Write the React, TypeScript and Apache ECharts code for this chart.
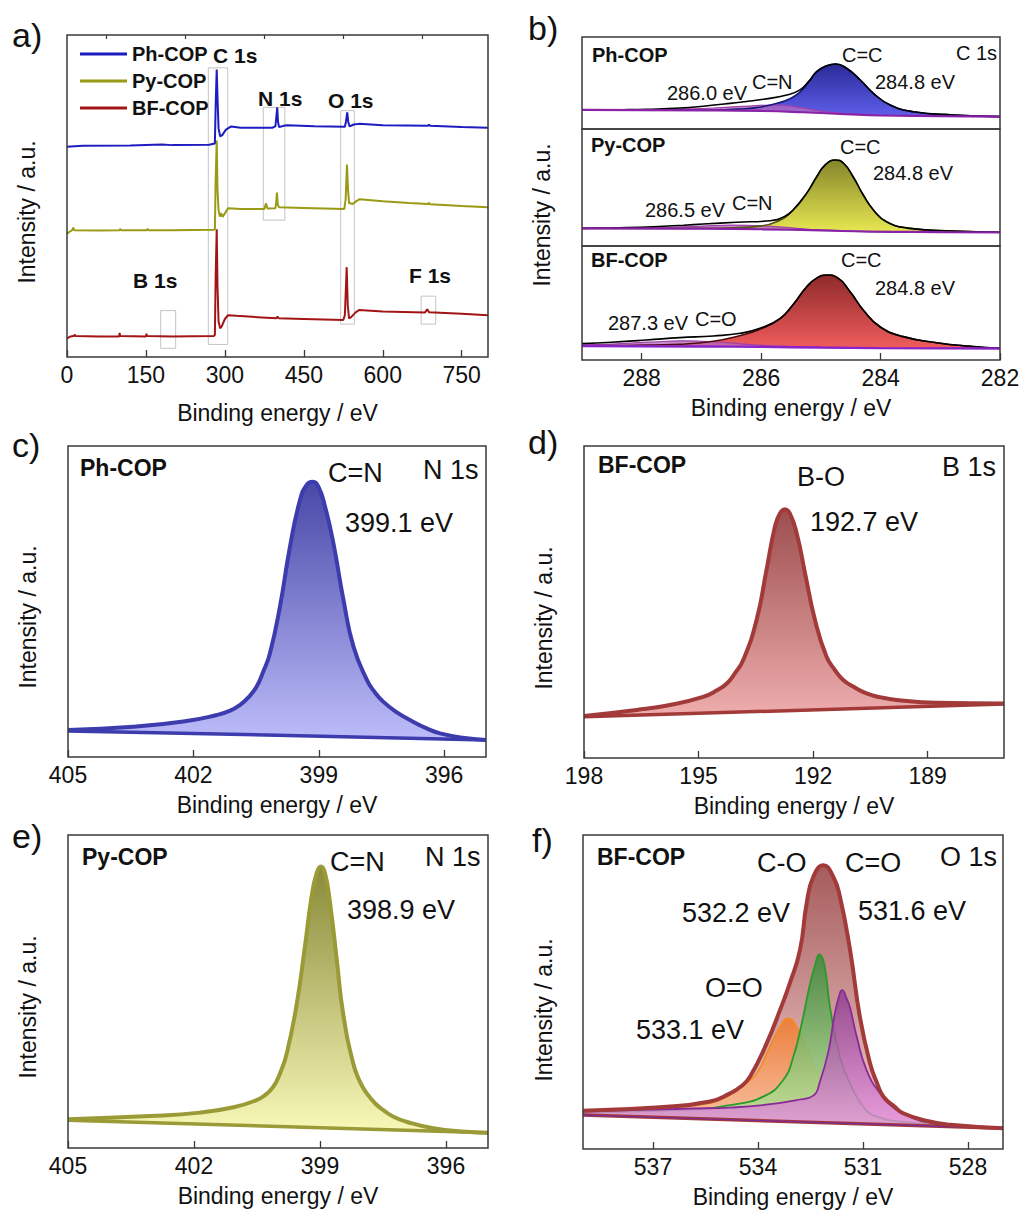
import React, { useEffect, useRef } from "react";
import * as echarts from "echarts";

type P = [number, number];

// ---------------- Panel a: survey spectra ----------------
const surveyTicks = [0, 150, 300, 450, 600, 750];
const surveyMinorTicks = [75, 225, 375, 525, 675];
const phSurvey: P[] = [
  [0, 65.3], [30, 65.6], [120, 65.7], [180, 66.0], [200, 65.8], [270, 65.9], [281, 66.3],
  [282.5, 78], [284.5, 89.3], [286.5, 78], [288, 71], [291, 68.5], [295, 68.9], [302, 70.6],
  [312, 71.6], [330, 71.2], [390, 71.2], [396, 71.6], [397.5, 74], [399.5, 77.5], [401, 73],
  [403, 71.4], [412, 71.8], [418, 72.0], [470, 71.7], [528, 71.5], [530, 73], [532.5, 76.0],
  [534.5, 73], [537, 71.6], [545, 72.2], [555, 72.4], [600, 72.0], [686, 71.8], [688, 72.2],
  [690, 71.8], [750, 71.4], [800, 71.2],
];
const pySurvey: P[] = [
  [0, 38.3], [5, 38.9], [10, 39.4], [12, 40.2], [14, 39.4], [60, 39.3], [100, 39.4], [101, 39.8],
  [103, 39.4], [152, 39.4], [153, 39.8], [155, 39.4], [200, 39.4], [279, 39.5], [281, 39.6],
  [282.5, 55], [284.5, 67.2], [286, 52], [288, 45.6], [290.5, 43.6], [292.5, 44.7], [295.5, 43.5],
  [300, 44.6], [306, 46.2], [330, 46.0], [375, 46.0], [378, 47.7], [381, 46.1], [396, 46.2],
  [397.5, 48], [399, 51.1], [400.5, 47.2], [403, 46.5], [450, 46.3], [527, 46.0], [529.5, 49],
  [532, 59.8], [534, 52], [536, 47.8], [543, 47.5], [550, 48.4], [556, 49.0], [600, 48.4],
  [650, 47.8], [686, 47.5], [688, 47.9], [690, 47.4], [750, 46.9], [800, 46.5],
];
const bfSurvey: P[] = [
  [0, 5.7], [5, 6.3], [14, 6.6], [15, 7.0], [16, 6.5], [60, 6.4], [99, 6.4], [100, 7.5], [101, 6.5],
  [150, 6.4], [151, 7.2], [152, 6.5], [200, 6.4], [279, 6.5], [281, 6.8], [282.5, 25], [284.5, 39.7],
  [286, 22], [288, 11], [291, 8.9], [294, 9.5], [300, 11.8], [306, 13.0], [322, 12.8], [370, 12.3],
  [398, 12.0], [400, 12.6], [402, 12.0], [450, 11.8], [525, 11.5], [528, 13], [531.5, 27.9],
  [533.5, 16], [536, 12.0], [540, 12.4], [548, 13.8], [555, 14.6], [600, 14.1], [680, 13.8],
  [684.5, 14.8], [688, 13.9], [750, 13.4], [800, 13.0],
];
const surveyBoxes = [
  { x: [268.5, 305.4], y: [3.9, 89.8] },
  { x: [373, 414], y: [42.5, 77.5] },
  { x: [520, 546], y: [10.2, 76.5] },
  { x: [178, 206.5], y: [2.7, 14.4] },
  { x: [673, 700.6], y: [10.2, 18.9] },
];

// ---------------- Panel b: C 1s ----------------
const c1sTicks = [282, 284, 286, 288];
const phC1sEnvelope: P[] = [
  [289, 20.7], [288.3, 21.0], [287.9, 21.5], [287.36, 22.8], [286.97, 24.8], [286.52, 27.9],
  [285.96, 32.3], [285.57, 37.0], [285.35, 42.5], [285.2, 52], [285.07, 62.3], [284.9, 68.8],
  [284.75, 70.7], [284.57, 66.0], [284.34, 53.3], [284.12, 38.8], [283.84, 26.1], [283.45, 18.8],
  [282.78, 15.2], [282, 13.4],
];
const phC1sCC: P[] = [
  [289, 20.7], [287.5, 20.5], [286.8, 20.6], [286.4, 21.6], [286.0, 24.0], [285.7, 28.5],
  [285.5, 33.5], [285.35, 40.0], [285.2, 51], [285.07, 62.3], [284.9, 68.8], [284.75, 70.7],
  [284.57, 66.0], [284.34, 53.3], [284.12, 38.8], [283.84, 26.1], [283.45, 18.8], [282.78, 15.2],
  [282, 13.4],
];
const phC1sCN: P[] = [
  [289, 20.7], [287.9, 21.0], [287.3, 21.8], [286.8, 22.8], [286.3, 24.6], [285.75, 26.1],
  [285.4, 24.0], [285.13, 20.7], [284.8, 18.0], [284.2, 15.2], [283, 14.1], [282, 13.4],
];
const phC1sBase: P[] = [
  [289, 20.7], [287, 20.3], [286, 19.6], [285.3, 18.2], [284.6, 16.2], [284.0, 14.7], [283, 14.0], [282, 13.4],
];
const pyC1sEnvelope: P[] = [
  [289, 15.1], [288.5, 15.6], [287.81, 16.5], [287.3, 17.8], [286.97, 18.8], [286.41, 20.3],
  [285.85, 21.6], [285.6, 25.5], [285.46, 31.2], [285.24, 45.0], [285.07, 59.2], [284.93, 69.2],
  [284.76, 73.5], [284.62, 70.7], [284.46, 59.2], [284.29, 43.6], [284.12, 30.8], [283.9, 20.8],
  [283.51, 15.1], [282.78, 12.8], [282, 11.7],
];
const pyC1sCC: P[] = [
  [289, 15.1], [287.5, 15.0], [286.8, 15.2], [286.4, 15.8], [286.07, 16.8], [285.74, 20.8],
  [285.46, 30.8], [285.24, 45.0], [285.07, 59.2], [284.93, 69.2], [284.76, 73.5], [284.62, 70.7],
  [284.46, 59.2], [284.29, 43.6], [284.12, 30.8], [283.9, 20.8], [283.51, 15.1], [282.78, 12.8],
  [282, 11.7],
];
const pyC1sCN: P[] = [
  [289, 15.1], [288, 15.4], [287.5, 16.0], [287, 17.0], [286.5, 17.9], [286, 17.3], [285.5, 15.5],
  [285, 13.6], [284.2, 12.4], [283, 11.9], [282, 11.7],
];
const pyC1sBase: P[] = [
  [289, 15.1], [287, 14.8], [286, 14.3], [285, 13.3], [284.2, 12.3], [283, 11.9], [282, 11.7],
];
const bfC1sEnvelope: P[] = [
  [289, 14.4], [288.5, 15.6], [287.92, 17.5], [287.36, 19.6], [286.8, 21.1], [286.35, 23.4],
  [286.02, 27.8], [285.68, 36.6], [285.46, 49.0], [285.24, 64.0], [285.07, 71.8], [284.9, 74.6],
  [284.73, 72.5], [284.51, 59.9], [284.29, 43.9], [284.01, 29.2], [283.62, 20.5], [283.06, 15.2],
  [282.5, 12.0], [282, 10.2],
];
const bfC1sCC: P[] = [
  [289, 12.4], [288.3, 12.7], [287.8, 13.2], [287.36, 13.8], [286.8, 16.5], [286.35, 21.5],
  [286.02, 27.0], [285.68, 36.4], [285.46, 49.0], [285.24, 64.0], [285.07, 71.8], [284.9, 74.6],
  [284.73, 72.5], [284.51, 59.9], [284.29, 43.9], [284.01, 29.2], [283.62, 20.5], [283.06, 15.2],
  [282.5, 12.0], [282, 10.2],
];
const bfC1sCO: P[] = [
  [289, 13.2], [288.5, 14.0], [287.9, 15.6], [287.3, 16.8], [286.8, 16.0], [286.3, 14.0],
  [285.7, 12.2], [285, 11.0], [284, 10.4], [282, 10.1],
];
const bfC1sBase: P[] = [
  [289, 12.3], [287, 11.9], [286, 11.5], [285, 10.9], [284, 10.4], [282, 10.1],
];

// ---------------- Panel c: Ph-COP N 1s ----------------
const n1sTicks = [396, 399, 402, 405];
const phN1sEnvelope: P[] = [
  [405, 8.7], [403.44, 9.7], [402.24, 11.4], [401.44, 13.5], [401.12, 14.9], [400.89, 16.7],
  [400.69, 19.1], [400.49, 22.6], [400.33, 27.4], [400.17, 33.3], [399.93, 48.3], [399.69, 67.6],
  [399.45, 82.6], [399.29, 87.5], [399.15, 88.5], [399.01, 86.9], [398.85, 80.5], [398.65, 68.7],
  [398.41, 50.5], [398.17, 35.5], [397.85, 24.8], [397.66, 20.8], [397.46, 17.8], [397.14, 14.4],
  [396.82, 11.9], [396.42, 9.2], [396.1, 7.6], [395.46, 6.0], [395, 5.5],
];
const phN1sBase: P[] = [[405, 8.4], [400, 7.0], [395, 5.5]];

// ---------------- Panel d: BF-COP B 1s ----------------
const b1sTicks = [189, 192, 195, 198];
const bfB1sEnvelope: P[] = [
  [198, 13.5], [196.62, 15.4], [195.75, 17.0], [194.88, 19.6], [194.53, 21.6], [194.26, 23.9],
  [194.05, 27.1], [193.83, 31.4], [193.48, 44.2], [193.22, 60.3], [193.0, 74.1], [192.87, 78.4],
  [192.74, 79.7], [192.61, 78.4], [192.43, 72.0], [192.21, 59.2], [191.95, 44.2], [191.65, 32.5],
  [191.43, 28.2], [191.21, 25.0], [190.95, 22.9], [190.6, 20.7], [190.25, 19.5], [189.81, 18.6],
  [188.77, 17.7], [187, 17.5],
];
const bfB1sBase: P[] = [[198, 13.2], [187, 17.3]];

// ---------------- Panel e: Py-COP N 1s ----------------
const pyN1sEnvelope: P[] = [
  [405, 9.2], [403.05, 10.2], [401.86, 11.3], [401.06, 13.0], [400.51, 15.3], [400.31, 16.9],
  [400.11, 19.6], [399.95, 23.9], [399.79, 30.3], [399.55, 46.3], [399.36, 64.3], [399.2, 80.3],
  [399.08, 87.8], [398.98, 89.9], [398.88, 87.8], [398.76, 78.2], [398.6, 60.1], [398.45, 43.0],
  [398.21, 27.1], [398.05, 21.2], [397.89, 17.5], [397.69, 14.3], [397.49, 12.1], [397.25, 10.0],
  [396.94, 8.4], [396.3, 6.3], [395.51, 5.2], [395, 4.9],
];
const pyN1sBase: P[] = [[405, 8.9], [395, 4.9]];

// ---------------- Panel f: BF-COP O 1s ----------------
const o1sTicks = [528, 531, 534, 537];
const bfO1sEnvelope: P[] = [
  [539, 12.2], [536.8, 13.3], [535.37, 15.1], [534.8, 17.7], [534.5, 19.8], [534.23, 23.0],
  [533.75, 33.7], [533.37, 44.3], [533.09, 52.8], [532.8, 63.4], [532.61, 78.2], [532.42, 86.7],
  [532.13, 90.4], [531.85, 86.7], [531.66, 80.4], [531.37, 63.4], [531.09, 42.1], [530.8, 27.3],
  [530.6, 21.0], [530.42, 16.7], [530.1, 13.5], [529.85, 11.4], [529.2, 9.0], [528.5, 7.7], [527, 6.6],
];
const bfO1sOO: P[] = [
  [539, 12.1], [536.8, 13.0], [535.37, 14.6], [534.8, 17.2], [534.4, 20.5], [534.04, 24.1],
  [533.66, 32.6], [533.37, 38.9], [533.13, 41.6], [532.89, 38.8], [532.61, 32.0], [532.32, 24.5],
  [532.13, 21.5], [531.75, 16.7], [531.37, 12.8], [531.18, 12.0], [530.61, 9.8], [529.18, 7.6], [527, 6.6],
];
const bfO1sCO: P[] = [
  [539, 11.6], [535.85, 12.6], [534.8, 14.0], [533.85, 16.7], [533.28, 22.0], [532.99, 29.4],
  [532.75, 40.0], [532.51, 52.8], [532.37, 58.5], [532.25, 62.0], [532.11, 59.0], [531.94, 45.0],
  [531.66, 29.4], [531.37, 20.9], [530.99, 13.5], [530.61, 10.3], [529.66, 8.5], [527, 6.6],
];
const bfO1sCdO: P[] = [
  [539, 12.0], [535.85, 12.9], [534.8, 13.2], [533.85, 14.0], [532.89, 15.6], [532.42, 17.0],
  [532.23, 21.5], [531.99, 31.0], [531.8, 43.5], [531.66, 49.6], [531.6, 50.6], [531.47, 48.0],
  [531.37, 45.0], [531.18, 35.8], [530.9, 25.2], [530.51, 17.7], [530.04, 12.4], [529.66, 10.3],
  [529.18, 8.6], [527, 6.6],
];
const bfO1sBase: P[] = [[539, 10.8], [527, 6.6]];

// ---------------- layout & styling ----------------
const FONT = '"Liberation Sans", Arial, Helvetica, sans-serif';
const INK = "#111";
const FRAME = "#3a3a3a";
const LAYOUT = [
  { left: 67, top: 35, width: 421, height: 322 }, // a
  { left: 582, top: 37, width: 418, height: 92 }, // b1
  { left: 582, top: 129, width: 418, height: 117 }, // b2
  { left: 582, top: 246, width: 418, height: 114 }, // b3
  { left: 68, top: 446, width: 418, height: 311 }, // c
  { left: 584, top: 446, width: 420, height: 312 }, // d
  { left: 68, top: 835, width: 420, height: 313 }, // e
  { left: 583, top: 835, width: 420, height: 314 }, // f
];
// [xAxisIndex, yAxisIndex]
const AX = { a: [0, 0], b1: [2, 1], b2: [3, 2], b3: [4, 3], c: [5, 4], d: [6, 5], e: [7, 6], f: [8, 7] } as const;

const grad = (top: string, bottom: string) =>
  new echarts.graphic.LinearGradient(0, 0, 0, 1, [
    { offset: 0, color: top },
    { offset: 1, color: bottom },
  ]);

const SMOOTH = 0.5;

function fill(id: string, axes: readonly number[], data: P[], top: string, bottom: string, z: number, opacity = 1, lineColor = top, lineWidth = 0) {
  return {
    type: "line", id, name: id, xAxisIndex: axes[0], yAxisIndex: axes[1], data, symbol: "none",
    smooth: SMOOTH, silent: true, z,
    lineStyle: { width: lineWidth, color: lineColor },
    areaStyle: { color: grad(top, bottom), opacity },
  };
}
function line(id: string, axes: readonly number[], data: P[], color: string, width: number, z: number, smooth: number | boolean = SMOOTH) {
  return {
    type: "line", id, name: id, xAxisIndex: axes[0], yAxisIndex: axes[1], data, symbol: "none",
    smooth, silent: true, z, color, lineStyle: { width, color },
  };
}
function cover(id: string, axes: readonly number[], data: P[], z: number) {
  return {
    type: "line", id, name: id, xAxisIndex: axes[0], yAxisIndex: axes[1], data, symbol: "none",
    smooth: SMOOTH, silent: true, z, lineStyle: { width: 0 },
    areaStyle: { color: "#ffffff", opacity: 1 },
  };
}

function xAxis(gridIndex: number, min: number, max: number, inverse: boolean, ticks: number[], showLabels: boolean, showTicks: boolean, nameGap = 36) {
  return {
    type: "value", gridIndex, min, max, inverse, z: 10,
    axisLine: { show: false },
    axisTick: { show: showTicks, inside: true, length: 7, customValues: ticks, lineStyle: { color: FRAME, width: 1.3 } },
    axisLabel: { show: showLabels, customValues: ticks, fontSize: 23, color: INK, fontFamily: FONT, margin: 6 },
    splitLine: { show: false },
    name: showLabels ? "Binding energy / eV" : "",
    nameLocation: "middle", nameGap,
    nameTextStyle: { fontSize: 23, color: INK, fontFamily: FONT },
  };
}

type T = { t: string; x: number; y: number; s: number; b?: boolean; r?: boolean };
const TEXTS: T[] = [
  // panel letters
  { t: "a)", x: 12, y: 35, s: 34 }, { t: "b)", x: 528, y: 28, s: 34 },
  { t: "c)", x: 12, y: 445, s: 34 }, { t: "d)", x: 528, y: 442, s: 34 },
  { t: "e)", x: 12, y: 836, s: 34 }, { t: "f)", x: 532, y: 840, s: 34 },
  // y titles
  { t: "Intensity / a.u.", x: 27, y: 212, s: 23, r: true },
  { t: "Intensity / a.u.", x: 542, y: 215, s: 23, r: true },
  { t: "Intensity / a.u.", x: 28, y: 617, s: 23, r: true },
  { t: "Intensity / a.u.", x: 544, y: 618, s: 23, r: true },
  { t: "Intensity / a.u.", x: 28, y: 1007, s: 23, r: true },
  { t: "Intensity / a.u.", x: 544, y: 1010, s: 23, r: true },
  // a
  { t: "C 1s", x: 213, y: 55, s: 21, b: true }, { t: "N 1s", x: 258, y: 98, s: 21, b: true },
  { t: "O 1s", x: 328, y: 100, s: 21, b: true }, { t: "B 1s", x: 133, y: 280, s: 21, b: true },
  { t: "F 1s", x: 409, y: 275, s: 21, b: true },
  // b
  { t: "Ph-COP", x: 592, y: 55, s: 20, b: true }, { t: "C=C", x: 842, y: 55, s: 20 },
  { t: "C 1s", x: 956, y: 53, s: 20 }, { t: "284.8 eV", x: 875, y: 82, s: 20 },
  { t: "286.0 eV", x: 667, y: 93, s: 20 }, { t: "C=N", x: 752, y: 82, s: 20 },
  { t: "Py-COP", x: 591, y: 145, s: 20, b: true }, { t: "C=C", x: 840, y: 147, s: 20 },
  { t: "284.8 eV", x: 873, y: 173, s: 20 }, { t: "286.5 eV", x: 645, y: 210, s: 20 },
  { t: "C=N", x: 732, y: 203, s: 20 },
  { t: "BF-COP", x: 591, y: 260, s: 20, b: true }, { t: "C=C", x: 841, y: 260, s: 20 },
  { t: "284.8 eV", x: 875, y: 288, s: 20 }, { t: "287.3 eV", x: 608, y: 323, s: 20 },
  { t: "C=O", x: 695, y: 319, s: 20 },
  // c
  { t: "Ph-COP", x: 80, y: 468, s: 23, b: true }, { t: "C=N", x: 328, y: 473, s: 27 },
  { t: "N 1s", x: 423, y: 470, s: 27 }, { t: "399.1 eV", x: 345, y: 523, s: 27 },
  // d
  { t: "BF-COP", x: 598, y: 465, s: 23, b: true }, { t: "B-O", x: 797, y: 477, s: 27 },
  { t: "B 1s", x: 942, y: 467, s: 27 }, { t: "192.7 eV", x: 810, y: 522, s: 27 },
  // e
  { t: "Py-COP", x: 82, y: 857, s: 23, b: true }, { t: "C=N", x: 330, y: 862, s: 27 },
  { t: "N 1s", x: 425, y: 857, s: 27 }, { t: "398.9 eV", x: 347, y: 910, s: 27 },
  // f
  { t: "BF-COP", x: 597, y: 857, s: 23, b: true }, { t: "C-O", x: 757, y: 863, s: 27 },
  { t: "C=O", x: 845, y: 863, s: 27 }, { t: "O 1s", x: 940, y: 857, s: 27 },
  { t: "532.2 eV", x: 682, y: 913, s: 27 }, { t: "531.6 eV", x: 858, y: 911, s: 27 },
  { t: "O=O", x: 705, y: 988, s: 27 }, { t: "533.1 eV", x: 636, y: 1030, s: 27 },
];

function buildOption() {
  const grids = LAYOUT.map((g) => ({ ...g, show: false, containLabel: false }));
  const xAxes = [
    { ...xAxis(0, 0, 800, false, surveyTicks, true, true, 44) },
    {
      type: "value", gridIndex: 0, min: 0, max: 800, z: 10,
      axisLine: { show: false }, axisLabel: { show: false }, splitLine: { show: false },
      axisTick: { show: true, inside: true, length: 4, customValues: surveyMinorTicks, lineStyle: { color: FRAME, width: 1.2 } },
    },
    xAxis(1, 282, 289, true, c1sTicks, false, false),
    xAxis(2, 282, 289, true, c1sTicks, false, false),
    xAxis(3, 282, 289, true, c1sTicks, true, true),
    xAxis(4, 395, 405, true, n1sTicks, true, true),
    xAxis(5, 187, 198, true, b1sTicks, true, true),
    xAxis(6, 395, 405, true, n1sTicks, true, true),
    xAxis(7, 527, 539, true, o1sTicks, true, true),
  ];
  const yAxes = LAYOUT.map((_, i) => ({ type: "value", gridIndex: i, min: 0, max: 100, show: false }));

  const series: any[] = [
    // ---- a
    {
      type: "line", name: "BF-COP", xAxisIndex: 0, yAxisIndex: 0, data: bfSurvey, symbol: "none",
      color: "#a31515", lineStyle: { width: 2, color: "#a31515" }, z: 3, silent: true,
      markArea: {
        silent: true, label: { show: false },
        itemStyle: { color: "rgba(0,0,0,0)", borderColor: "#c4c4c4", borderWidth: 1 },
        data: surveyBoxes.map((b) => [{ coord: [b.x[0], b.y[0]] }, { coord: [b.x[1], b.y[1]] }]),
      },
    },
    { type: "line", name: "Py-COP", xAxisIndex: 0, yAxisIndex: 0, data: pySurvey, symbol: "none", color: "#9a9a14", lineStyle: { width: 2, color: "#9a9a14" }, z: 4, silent: true },
    { type: "line", name: "Ph-COP", xAxisIndex: 0, yAxisIndex: 0, data: phSurvey, symbol: "none", color: "#1c1cc0", lineStyle: { width: 2, color: "#1c1cc0" }, z: 5, silent: true },

    // ---- b1 Ph-COP C 1s
    fill("b1cc", AX.b1, phC1sCC, "#2a2a98", "#6b6bff", 2),
    fill("b1cn", AX.b1, phC1sCN, "#b060b8", "#d8a0e0", 3, 0.75),
    cover("b1cov", AX.b1, phC1sBase, 4),
    line("b1cnl", AX.b1, phC1sCN, "#a040a8", 1.2, 5),
    line("b1ccl", AX.b1, phC1sCC, "#15157a", 1.6, 5),
    line("b1env", AX.b1, phC1sEnvelope, "#000000", 1.6, 6),
    line("b1base", AX.b1, phC1sBase, "#8a22a8", 2.2, 7),

    // ---- b2 Py-COP C 1s
    fill("b2cc", AX.b2, pyC1sCC, "#85852a", "#fafa5a", 2),
    fill("b2cn", AX.b2, pyC1sCN, "#b060b8", "#d8a0e0", 3, 0.75),
    cover("b2cov", AX.b2, pyC1sBase, 4),
    line("b2cnl", AX.b2, pyC1sCN, "#a040a8", 1.2, 5),
    line("b2ccl", AX.b2, pyC1sCC, "#55550e", 1.6, 5),
    line("b2env", AX.b2, pyC1sEnvelope, "#000000", 1.6, 6),
    line("b2base", AX.b2, pyC1sBase, "#8a22a8", 2.2, 7),

    // ---- b3 BF-COP C 1s
    fill("b3cc", AX.b3, bfC1sCC, "#8e2a2a", "#ff6464", 2),
    fill("b3co", AX.b3, bfC1sCO, "#b060b8", "#d8a0e0", 3, 0.75),
    cover("b3cov", AX.b3, bfC1sBase, 4),
    line("b3col", AX.b3, bfC1sCO, "#a040a8", 1.2, 5),
    line("b3ccl", AX.b3, bfC1sCC, "#4a0c0c", 1.6, 5),
    line("b3env", AX.b3, bfC1sEnvelope, "#000000", 1.6, 6),
    line("b3base", AX.b3, bfC1sBase, "#8a22c8", 2.4, 7),

    // ---- c Ph-COP N 1s
    fill("cfill", AX.c, phN1sEnvelope, "#4848a8", "#c4c4ff", 2),
    cover("ccov", AX.c, phN1sBase, 3),
    line("cbase", AX.c, phN1sBase, "#3c3cae", 3.5, 4),
    line("cenv", AX.c, phN1sEnvelope, "#3c3cae", 4, 5),

    // ---- d BF-COP B 1s
    fill("dfill", AX.d, bfB1sEnvelope, "#9c4e4e", "#ffc0c0", 2),
    cover("dcov", AX.d, bfB1sBase, 3),
    line("dbase", AX.d, bfB1sBase, "#a23a3a", 3.5, 4),
    line("denv", AX.d, bfB1sEnvelope, "#a23a3a", 4, 5),

    // ---- e Py-COP N 1s
    fill("efill", AX.e, pyN1sEnvelope, "#8a8a3a", "#ffffc0", 2),
    cover("ecov", AX.e, pyN1sBase, 3),
    line("ebase", AX.e, pyN1sBase, "#9a9a36", 3.5, 4),
    line("eenv", AX.e, pyN1sEnvelope, "#9a9a36", 4, 5),

    // ---- f BF-COP O 1s
    fill("ffill", AX.f, bfO1sEnvelope, "#9c4a4a", "#f6d0d0", 2, 0.9),
    fill("foo", AX.f, bfO1sOO, "#f07a2c", "#fcd0b4", 3, 0.85, "#f28a1e", 1.6),
    fill("fco", AX.f, bfO1sCO, "#3a8a3a", "#d0f4a8", 4, 0.85, "#2a9a2a", 1.8),
    fill("fcdo", AX.f, bfO1sCdO, "#8a3a8a", "#f6a0ee", 5, 0.8, "#8a2a9a", 1.8),
    cover("fcov", AX.f, bfO1sBase, 6),
    line("fbase", AX.f, bfO1sBase, "#a23a3a", 3.5, 7),
    line("fbase2", AX.f, bfO1sBase, "#7a2a9a", 1.2, 7),
    line("fenv", AX.f, bfO1sEnvelope, "#a23a3a", 4, 8),
  ];

  const graphics: any[] = [];
  LAYOUT.forEach((g) => {
    graphics.push({
      type: "rect", z: 100, silent: true,
      shape: { x: g.left, y: g.top, width: g.width, height: g.height },
      style: { fill: "none", stroke: FRAME, lineWidth: 1.5 },
    });
  });
  TEXTS.forEach((t) => {
    graphics.push({
      type: "text", z: 101, silent: true, x: t.x, y: t.y,
      rotation: t.r ? Math.PI / 2 : 0,
      style: {
        text: t.t, fontSize: t.s, fontFamily: FONT, fontWeight: t.b ? "bold" : "normal",
        fill: INK, align: t.r ? "center" : "left", verticalAlign: "middle",
      },
    });
  });

  return {
    animation: false,
    backgroundColor: "#ffffff",
    grid: grids,
    xAxis: xAxes,
    yAxis: yAxes,
    legend: {
      data: ["Ph-COP", "Py-COP", "BF-COP"],
      orient: "vertical", left: 75, top: 39, itemWidth: 47, itemHeight: 3, itemGap: 7,
      icon: "rect", selectedMode: false,
      textStyle: { fontFamily: FONT, fontWeight: "bold", fontSize: 20, color: INK },
    },
    series,
    graphic: graphics,
  };
}

export default function App() {
  const ref = useRef<HTMLDivElement>(null);
  useEffect(() => {
    if (!ref.current) return;
    const chart = echarts.init(ref.current, undefined, { renderer: "svg" });
    chart.setOption(buildOption() as any);
    return () => chart.dispose();
  }, []);
  return (
    <div
      ref={ref}
      style={{ position: "absolute", left: 0, top: 0, width: 1028, height: 1212, background: "#fff" }}
    />
  );
}
